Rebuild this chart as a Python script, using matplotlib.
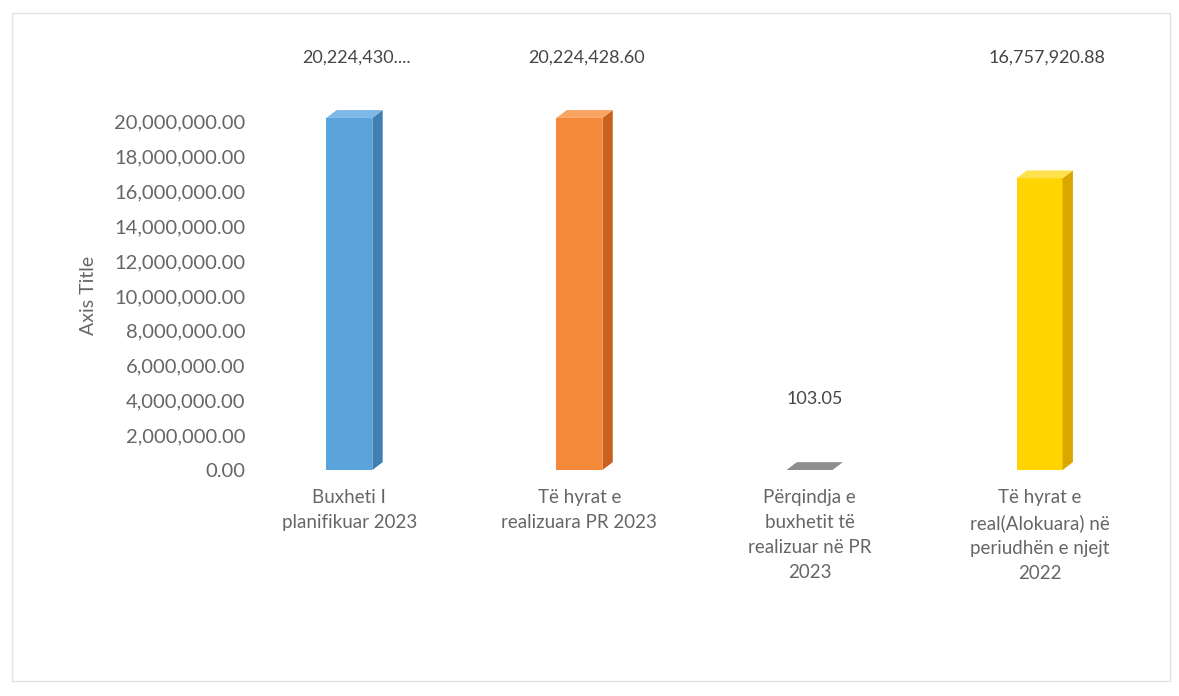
import matplotlib.pyplot as plt
from matplotlib.patches import Polygon, Rectangle
from matplotlib.transforms import blended_transform_factory

plt.rcParams["font.family"] = ["Lato", "DejaVu Sans"]

categories = [
    "Buxheti I\nplanifikuar 2023",
    "Të hyrat e\nrealizuara PR 2023",
    "Përqindja e\nbuxhetit të\nrealizuar në PR\n2023",
    "Të hyrat e\nreal(Alokuara) në\nperiudhën e njejt\n2022",
]
values = [20224430.0, 20224428.60, 103.05, 16757920.88]
value_labels = ["20,224,430....", "20,224,428.60", "103.05", "16,757,920.88"]
yticks = list(range(0, 20000001, 2000000))

front_colors = ["#5BA3DB", "#F5893A", "#8E8E8E", "#FFD400"]
side_colors = ["#3F7FB3", "#C9601C", "#6A6A6A", "#D9A800"]
top_colors = ["#7DB8E6", "#F9A463", "#A8A8A8", "#FFE04D"]
text_color = "#666666"

fig = plt.figure(figsize=(11.79, 6.96), dpi=100)
ax = fig.add_axes([255 / 1179, 1 - 470 / 696, 895 / 1179, 430 / 696])

width = 0.2     # front face width in category units
dx = 0.045      # depth offset to the right
dy = 450000     # depth offset upwards

for i, v in enumerate(values):
    ax.bar(i, v, width=width, color=front_colors[i], edgecolor="none", zorder=2)
    right = i + width / 2
    left = i - width / 2
    side = Polygon([(right, 0), (right + dx, dy), (right + dx, v + dy), (right, v)],
                   closed=True, facecolor=side_colors[i], edgecolor="none", zorder=2)
    top = Polygon([(left, v), (right, v), (right + dx, v + dy), (left + dx, v + dy)],
                  closed=True, facecolor=top_colors[i] if v > 1e6 else front_colors[i],
                  edgecolor="none", zorder=3)
    ax.add_patch(side)
    ax.add_patch(top)

# data labels: large values sit at the top of the plot area, small ones above the bar
trans = blended_transform_factory(ax.transData, ax.transAxes)
for i, (v, lab) in enumerate(zip(values, value_labels)):
    if v > 1e6:
        ax.text(i + dx / 2 + 0.01, 0.96, lab, transform=trans, ha="center", va="center",
                fontsize=13, color="#454545")
    else:
        ax.annotate(lab, xy=(i + dx / 2, v), xytext=(0, 45), textcoords="offset points",
                    ha="center", va="bottom", fontsize=13, color="#454545")

ax.set_xlim(-0.41, 3.48)
ax.set_ylim(0, 24700000)
ax.set_yticks(yticks)
ax.set_yticklabels([f"{t:,.2f}" for t in yticks])
ax.set_xticks(range(len(categories)))
ax.set_xticklabels(categories, linespacing=1.55)
ax.tick_params(axis="y", length=0, labelsize=14.5, labelcolor=text_color, pad=7)
ax.tick_params(axis="x", length=0, labelsize=13.5, labelcolor=text_color, pad=14)
for s in ax.spines.values():
    s.set_visible(False)

fig.text(88 / 1179, 1 - 295 / 696, "Axis Title", rotation=90, ha="center", va="center",
         fontsize=14, color=text_color)

# faint chart border
fig.patches.append(Rectangle((12 / 1179, 15 / 696), 1158 / 1179, 668 / 696,
                             transform=fig.transFigure, fill=False,
                             edgecolor="#E2E2E2", linewidth=1.0))

fig.savefig("out.png", dpi=100, facecolor="white")
